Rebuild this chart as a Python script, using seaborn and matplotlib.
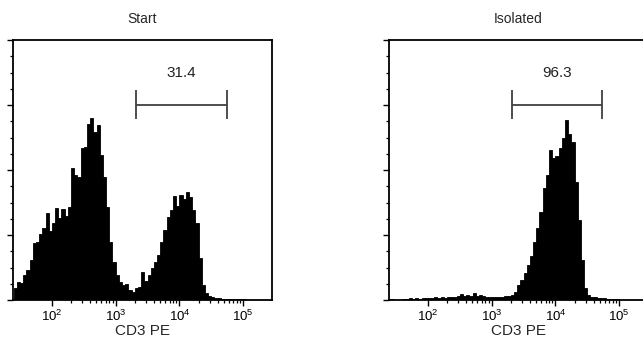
import numpy as np
import pandas as pd
import matplotlib
matplotlib.use("Agg")
import matplotlib.pyplot as plt
import seaborn as sns
from matplotlib.ticker import FixedLocator, MultipleLocator, NullFormatter, LogFormatterSciNotation

# ---------------- data ----------------
log_start = 1.40      # first channel edge (log10 units)
bin_width = 0.05      # channel width (log10 units)

start_counts = [12, 18, 17, 25, 30, 40, 57, 58, 66, 72,
                87, 69, 77, 92, 82, 91, 84, 93, 132, 125,
                123, 152, 153, 176, 182, 168, 175, 145, 123, 93,
                58, 38, 25, 18, 15, 16, 10, 8, 12, 13,
                28, 19, 25, 32, 38, 45, 58, 70, 83, 90,
                104, 94, 105, 101, 108, 103, 90, 77, 42, 15,
                7, 4, 3, 2, 2, 1.5, 1.5, 1, 1, 1,
                1, 1, 1, 0.5, 0.5, 0.5, 0.5, 0.5, 0.5, 0.5, 0.5]

isolated_counts = [1, 0.5, 0.5, 0.5, 1, 1.5, 2, 1.5, 2, 1.5,
                   2.5, 2, 2.5, 2, 3, 2.5, 3, 2, 3, 3.5,
                   3, 4, 6, 4.5, 5, 4, 7.5, 4.5, 5, 4,
                   3.5, 3, 3.5, 3, 3.5, 3, 4, 4, 5, 8,
                   15, 20, 27, 35, 44, 58, 72, 88, 112, 125,
                   150, 142, 144, 152, 162, 180, 166, 158, 118, 80,
                   40, 12, 5, 3, 3, 2.5, 2, 2, 1.5, 1,
                   1, 1, 0.5, 0.5, 0.5, 0.5, 0.5, 0.5, 0.5, 0.5, 0.5]

titles = ["Start", "Isolated"]
gate_labels = ["31.4", "96.3"]
gate_low = [2050, 2050]
gate_high = [56000, 54000]
x_label = "CD3 PE"
major_ticks = [1e2, 1e3, 1e4, 1e5]

# ---------------- style ----------------
sns.set_style("ticks")
plt.rcParams["font.family"] = ["Liberation Sans", "DejaVu Sans"]
plt.rcParams["mathtext.fontset"] = "custom"
plt.rcParams["mathtext.rm"] = "Liberation Sans"
plt.rcParams["mathtext.it"] = "Liberation Sans:italic"
plt.rcParams["mathtext.bf"] = "Liberation Sans:bold"

W, H = 643, 348
fig = plt.figure(figsize=(W / 100, H / 100), dpi=100)

ax_w = 259 / W
ax_h = 260 / H
bottom = (H - 300) / H
lefts = [13 / W, 389 / W]

xmin, xmax = 10 ** 1.39, 10 ** 5.453
ymax = 260

for k, counts in enumerate([start_counts, isolated_counts]):
    ax = fig.add_axes([lefts[k], bottom, ax_w, ax_h])
    n = len(counts)
    centers = 10 ** (log_start + bin_width * (np.arange(n) + 0.5))
    df = pd.DataFrame({"fluor": centers, "events": counts})
    sns.histplot(data=df, x="fluor", weights="events", bins=n,
                 binrange=(log_start, log_start + bin_width * n),
                 log_scale=True, element="bars", fill=True,
                 color="black", alpha=1, edgecolor="black", linewidth=0.6,
                 ax=ax)
    ax.set_xlim(xmin, xmax)
    ax.set_ylim(0, ymax)

    # gate marker
    gy = 195
    ax.plot([gate_low[k], gate_high[k]], [gy, gy], color="#404040", lw=1.3,
            solid_capstyle="butt")
    for gx in (gate_low[k], gate_high[k]):
        ax.plot([gx, gx], [gy - 14, gy + 15], color="#404040", lw=1.3,
                solid_capstyle="butt")
    gmid = np.sqrt(gate_low[k] * gate_high[k])
    ax.text(gmid, 227, gate_labels[k], ha="center", va="center",
            fontsize=11, color="#222222")

    # axes styling
    for sp in ax.spines.values():
        sp.set_visible(True)
        sp.set_linewidth(1.3)
        sp.set_color("black")
    ax.xaxis.set_major_locator(FixedLocator(major_ticks))
    ax.xaxis.set_major_formatter(LogFormatterSciNotation())
    minors = [m * 10 ** d for d in (2, 3, 4) for m in range(2, 10)]
    ax.xaxis.set_minor_locator(FixedLocator(minors))
    ax.xaxis.set_minor_formatter(NullFormatter())
    ax.yaxis.set_major_locator(MultipleLocator(65))
    ax.yaxis.set_minor_locator(MultipleLocator(16.25))
    ax.yaxis.set_major_formatter(NullFormatter())
    ax.tick_params(axis="both", which="major", direction="out", length=4,
                   width=1, colors="black", labelsize=9.5, pad=2)
    ax.tick_params(axis="both", which="minor", direction="out", length=2.5,
                   width=0.9, colors="black")
    ax.tick_params(axis="x", top=False)
    ax.tick_params(axis="y", right=False)
    ax.set_ylabel("")
    ax.set_xlabel(x_label, fontsize=11, labelpad=0)
    ax.set_title(titles[k], fontsize=10, pad=12)

fig.savefig("out.png", dpi=100)
